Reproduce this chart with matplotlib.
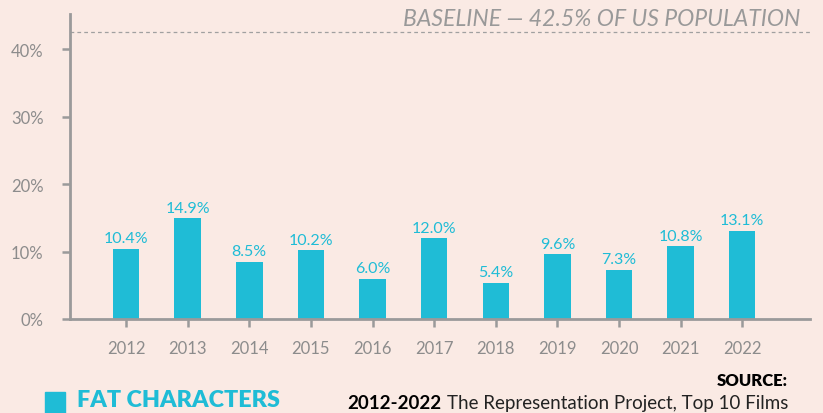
import matplotlib
matplotlib.use("Agg")
import matplotlib.pyplot as plt
import numpy as np

years = ["2012", "2013", "2014", "2015", "2016", "2017", "2018", "2019", "2020", "2021", "2022"]
values = [10.4, 14.9, 8.5, 10.2, 6.0, 12.0, 5.4, 9.6, 7.3, 10.8, 13.1]
baseline = 42.5
y_ticks = [0, 10, 20, 30, 40]

BG = "#FAEAE4"
BAR = "#1FBCD6"
GRAY = "#8C8C8C"
AXIS = "#9A9A9A"

plt.rcParams['font.family'] = ['Lato', 'DejaVu Sans']

fig = plt.figure(figsize=(8.23, 4.14), dpi=100, facecolor=BG)
ax = fig.add_axes([70/823, 1-320/414, (810-70)/823, (320-15)/414])
ax.set_facecolor(BG)

x = np.arange(len(years))
ax.bar(x, values, width=0.43, color=BAR, zorder=2)
for xi, v in zip(x, values):
    ax.text(xi, v + 0.5, f"{v:.1f}%", ha="center", va="bottom", color=BAR, fontsize=11.5)

ax.axhline(baseline, color="#A0A0A0", lw=0.9, ls=(0, (3, 2.5)), zorder=1)
fig.text(800/823, 1-20/414, "BASELINE — 42.5% OF US POPULATION", ha="right", va="center",
         color="#999999", fontsize=16.6, style="italic")

ax.set_xlim(-0.91, 11.1)
ax.set_ylim(0, 45.2)
ax.set_xticks(x)
ax.set_xticklabels(years)
ax.set_yticks(y_ticks)
ax.set_yticklabels([f"{t}%" for t in y_ticks])
ax.tick_params(axis="both", colors=AXIS, labelcolor=GRAY, labelsize=12, width=1.8, length=6)
ax.tick_params(axis="x", pad=9)
ax.tick_params(axis="y", pad=13)
for s in ["top", "right"]:
    ax.spines[s].set_visible(False)
for s in ["left", "bottom"]:
    ax.spines[s].set_color(AXIS)
    ax.spines[s].set_linewidth(2)

# Legend
fig.patches.append(plt.Rectangle((45/823, 0), 20/823, 21/414, transform=fig.transFigure,
                                 color=BAR, zorder=3))
fig.text(77/823, 3/414, "FAT CHARACTERS", color=BAR, fontsize=16.8, fontweight="heavy",
         ha="left", va="bottom")

fig.text(788/823, 1-381/414, "SOURCE:", color="black", fontsize=12, fontweight="heavy",
         ha="right", va="center")
t_reg = fig.text(788/823, 1-404/414, "The Representation Project, Top 10 Films", color="#222222",
                 fontsize=13.5, ha="right", va="center")
renderer = fig.canvas.get_renderer()
bb = t_reg.get_window_extent(renderer)
fig.text((bb.x0 - 5)/823, 1-404/414, "2012-2022", color="black", fontsize=13.5,
         fontweight="bold", ha="right", va="center")

fig.savefig("out.png", dpi=100, facecolor=BG)
